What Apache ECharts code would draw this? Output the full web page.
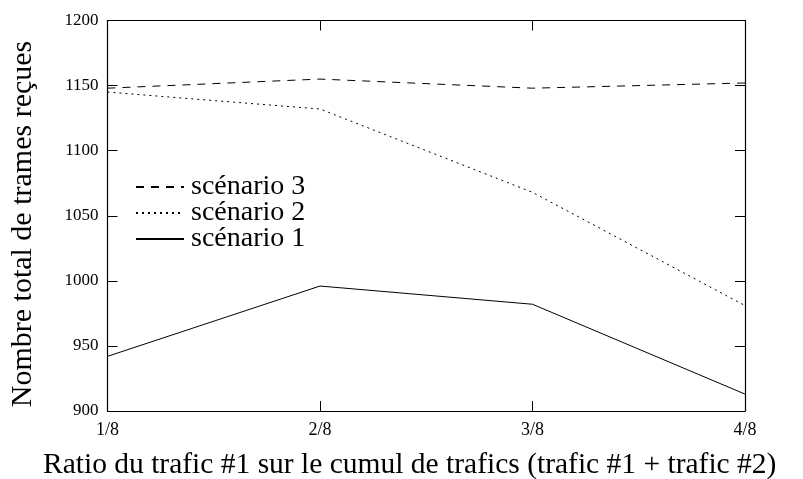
<!DOCTYPE html>
<html><head><meta charset="utf-8">
<script src="https://cdn.jsdelivr.net/npm/echarts@6/dist/echarts.min.js"></script>
<style>html,body{margin:0;padding:0;background:#fff}#c{width:803px;height:479px}</style>
</head><body><div id="c"></div>
<script>
const categories = ['1/8', '2/8', '3/8', '4/8'];
const scenario1 = [942, 996, 982, 913];
const scenario2 = [1145, 1132, 1068, 981];
const scenario3 = [1148, 1155, 1148, 1152];
const seriesNames = ['scénario 1', 'scénario 2', 'scénario 3'];
const yTicks = { min: 900, max: 1200, interval: 50 };
const xTitle = 'Ratio du trafic #1 sur le cumul de trafics (trafic #1 + trafic #2)';
const yTitle = 'Nombre total de trames reçues';

const FONT = 'Liberation Serif';
const chart = echarts.init(document.getElementById('c'), null, { renderer: 'canvas' });
const axisCommon = {
  axisLine: { show: true, lineStyle: { color: '#000', width: 1.2 } },
  axisTick: { show: true, inside: true, length: 10, lineStyle: { color: '#000', width: 1 } },
  splitLine: { show: false }
};
chart.setOption({
  animation: false,
  backgroundColor: '#fff',
  grid: { left: 107.5, right: 58, top: 20.5, bottom: 68, containLabel: false },
  xAxis: [
    Object.assign({ type: 'category', data: categories, boundaryGap: false, position: 'bottom',
      axisLabel: { color: '#000', fontFamily: FONT, fontSize: 18, margin: 10 } }, axisCommon,
      { axisTick: { show: true, inside: true, length: 10, alignWithLabel: true, lineStyle: { color: '#000' } } }),
    Object.assign({ type: 'category', data: categories, boundaryGap: false, position: 'top',
      axisLabel: { show: false } }, axisCommon,
      { axisTick: { show: true, inside: true, length: 10, lineStyle: { color: '#000' } } })
  ],
  yAxis: [
    Object.assign({ type: 'value', min: yTicks.min, max: yTicks.max, interval: yTicks.interval, position: 'left',
      axisLabel: { color: '#000', fontFamily: FONT, fontSize: 17, margin: 9, formatter: v => String(v) } }, axisCommon),
    Object.assign({ type: 'value', min: yTicks.min, max: yTicks.max, interval: yTicks.interval, position: 'right',
      axisLabel: { show: false } }, axisCommon)
  ],
  legend: {
    orient: 'vertical', left: 130, top: 168,
    data: [seriesNames[2], seriesNames[1], seriesNames[0]],
    itemWidth: 48, itemHeight: 14, itemGap: -2,
    itemStyle: { opacity: 0 },
    textStyle: { fontFamily: FONT, fontSize: 28, lineHeight: 26, color: '#000', padding: [0, 0, 0, 2] },
    selectedMode: false
  },
  graphic: [
    { type: 'text', x: 43, y: 450, style: { text: xTitle, font: '29.5px "Liberation Serif"', fill: '#000', align: 'left', verticalAlign: 'top' } },
    { type: 'text', rotation: Math.PI / 2, x: 8, y: 224,
      style: { text: yTitle, font: '30px "Liberation Serif"', fill: '#000', align: 'center', verticalAlign: 'top' } }
  ],
  series: [
    { name: seriesNames[0], type: 'line', data: scenario1, symbol: 'none', color: '#000',
      lineStyle: { color: '#000', width: 1, type: 'solid' } },
    { name: seriesNames[1], type: 'line', data: scenario2, symbol: 'none', color: '#000',
      lineStyle: { color: '#000', width: 1, type: [2, 4] } },
    { name: seriesNames[2], type: 'line', data: scenario3, symbol: 'none', color: '#000',
      lineStyle: { color: '#000', width: 1, type: [8, 7] } }
  ]
});
</script></body></html>
